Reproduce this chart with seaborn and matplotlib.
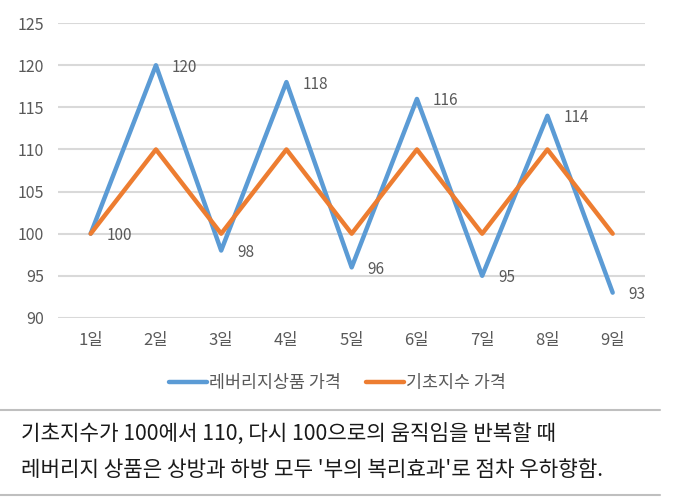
import matplotlib
matplotlib.use('Agg')
import matplotlib.pyplot as plt
import numpy as np
import pandas as pd
import seaborn as sns
from matplotlib.lines import Line2D

days = ['1일', '2일', '3일', '4일', '5일', '6일', '7일', '8일', '9일']
leverage = [100, 120, 98, 118, 96, 116, 95, 114, 93]
index_price = [100, 110, 100, 110, 100, 110, 100, 110, 100]
series_names = ['레버리지상품 가격', '기초지수 가격']
caption = ["기초지수가 100에서 110, 다시 100으로의 움직임을 반복할 때",
           "레버리지 상품은 상방과 하방 모두 '부의 복리효과'로 점차 우하향함."]

sns.set_style('white')
plt.rcParams['font.family'] = ['Noto Sans CJK KR', 'DejaVu Sans']

df = pd.DataFrame({
    'day': days * 2,
    'pos': list(range(len(days))) * 2,
    'price': leverage + index_price,
    'series': [series_names[0]] * len(days) + [series_names[1]] * len(days),
})

colors = ['#5B9BD5', '#ED7D31']
fig = plt.figure(figsize=(6.75, 5.03), dpi=100)
ax = fig.add_axes([0.086, 0.368, 0.87, 0.586])

sns.lineplot(data=df, x='pos', y='price', hue='series', palette=colors,
             linewidth=3.2, ax=ax, legend=False, sort=False)

# data labels for leverage series
for i, v in enumerate(leverage):
    ax.annotate(str(v), (i, v), xytext=(11.5, 0), textcoords='offset points',
                va='center_baseline', ha='left', fontsize=11, color='#595959')

ax.set_xlim(-0.5, len(days) - 0.5)
ax.set_ylim(90, 125)
ax.set_yticks(np.arange(90, 126, 5))
ax.set_xticks(range(len(days)))
ax.set_xticklabels(days)
ax.tick_params(axis='both', length=0, colors='#595959')
ax.tick_params(axis='y', pad=10, labelsize=11.5)
ax.tick_params(axis='x', pad=10, labelsize=12)
ax.grid(axis='y', color='#D9D9D9', linewidth=1.5)
ax.set_axisbelow(True)
ax.set_xlabel('')
ax.set_ylabel('')
for s in ax.spines.values():
    s.set_visible(False)

handles = [Line2D([0], [0], color=c, linewidth=3.2) for c in colors]
fig.legend(handles, series_names, loc='center', bbox_to_anchor=(0.5, 0.239),
           ncol=2, frameon=False, fontsize=12.5, handlelength=2.2,
           handletextpad=0.15, columnspacing=1.4, labelcolor='#595959')

fig.add_artist(Line2D([0, 0.978], [0.185, 0.185], color='#BFBFBF', linewidth=1.5))
fig.add_artist(Line2D([0, 0.978], [0.016, 0.016], color='#BFBFBF', linewidth=1.5))
fig.text(0.031, 1 - 435 / 503, caption[0], fontsize=15.3, va='center', ha='left', color='#1a1a1a')
fig.text(0.031, 1 - 470 / 503, caption[1], fontsize=15.3, va='center', ha='left', color='#1a1a1a')

fig.savefig('out.png', dpi=100)
